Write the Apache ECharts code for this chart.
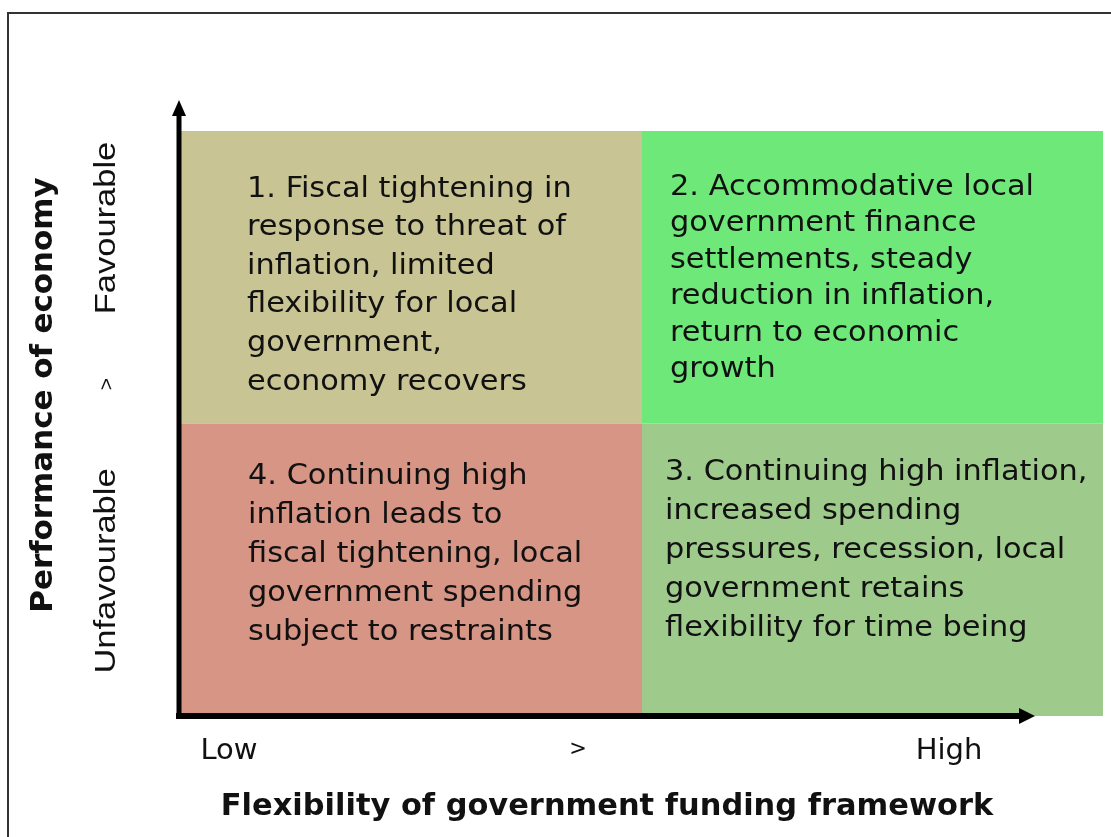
<!DOCTYPE html>
<html>
<head>
<meta charset="utf-8">
<title>Scenario matrix</title>
<script src="https://cdn.jsdelivr.net/npm/echarts@6/dist/echarts.min.js"></script>
<style>
  html, body { margin: 0; padding: 0; background: #fff; }
  #chart { width: 1111px; height: 837px; }
</style>
</head>
<body>
<div id="chart"></div>
<script>
// scenarios: which cell of the 2x2 grid each one sits in
// col 0 = low flexibility, col 1 = high; row 0 = unfavourable, row 1 = favourable
const scenarioIds = [1, 2, 3, 4]
const scenarioCol = [0, 1, 1, 0]
const scenarioRow = [1, 1, 0, 0]
const scenarioText = [
  '1. Fiscal tightening in\nresponse to threat of\ninflation, limited\nflexibility for local\ngovernment,\neconomy recovers',
  '2. Accommodative local\ngovernment finance\nsettlements, steady\nreduction in inflation,\nreturn to economic\ngrowth',
  '3. Continuing high inflation,\nincreased spending\npressures, recession, local\ngovernment retains\nflexibility for time being',
  '4. Continuing high\ninflation leads to\nfiscal tightening, local\ngovernment spending\nsubject to restraints'
]
const xTickLabels = ['Low', '>', 'High']
const yTickLabels = ['Unfavourable', '>', 'Favourable']
const xAxisName = 'Flexibility of government funding framework'
const yAxisName = 'Performance of economy'

// styling
const cellColors = ['#c8c493', '#6fe87a', '#9ecb8c', '#d79585']
const cellPad = [[66, 39], [28, 38], [23, 30], [67, 34]]
const cellLineHeight = [38.6, 36.5, 39, 39]
const textFont = 'DejaVu Sans'
const sideFont = 'Liberation Sans'

let chart = echarts.init(document.getElementById('chart'))

function label(opts, style) {
  return Object.assign({ type: 'text', z: 100 }, opts, {
    style: Object.assign({
      fill: '#111', align: 'center', verticalAlign: 'middle',
      textAlign: 'center', textVerticalAlign: 'middle'
    }, style)
  })
}

// 坐标轴箭头和文字用 graphic 画
let graphics = [
  {
    type: 'rect', z: 100,
    shape: { x: 8, y: 13, width: 1200, height: 900 },
    style: { fill: 'none', stroke: '#333', lineWidth: 2 }
  },
  // y axis
  { type: 'line', z: 100, shape: { x1: 179, y1: 112, x2: 179, y2: 719 }, style: { stroke: '#000', lineWidth: 5 } },
  { type: 'polygon', z: 100, shape: { points: [[179, 100], [172, 116], [186, 116]] }, style: { fill: '#000' } },
  // x axis
  { type: 'line', z: 100, shape: { x1: 176, y1: 716, x2: 1022, y2: 716 }, style: { stroke: '#000', lineWidth: 6 } },
  { type: 'polygon', z: 100, shape: { points: [[1035, 716], [1019, 708], [1019, 724]] }, style: { fill: '#000' } }
]

const xTickPos = [229, 578, 949]
xTickLabels.forEach((t, i) => {
  graphics.push(label(
    { x: xTickPos[i], y: i === 1 ? 750 : 751 },
    { text: t, fontFamily: textFont, fontSize: i === 1 ? 21 : 29 }
  ))
})
graphics.push(label(
  { x: 607, y: 807, scaleX: 1.015 },
  { text: xAxisName, fontFamily: textFont, fontSize: 30, fontWeight: 'bold' }
))

const yTickPos = [571, 384, 228]
yTickLabels.forEach((t, i) => {
  graphics.push(label(
    { x: 107, y: yTickPos[i], rotation: Math.PI / 2, scaleX: i === 1 ? 1 : 1.15 },
    { text: t, fontFamily: sideFont, fontSize: i === 1 ? 21 : 30 }
  ))
})
graphics.push(label(
  { x: 44, y: 395, rotation: Math.PI / 2, scaleX: 1.03 },
  { text: yAxisName, fontFamily: textFont, fontSize: 30, fontWeight: 'bold' }
))

chart.setOption({
  animation: false,
  backgroundColor: '#fff',
  grid: { left: 181, top: 131, right: 8, bottom: 121 },
  xAxis: { type: 'value', min: 0, max: 2, show: false },
  yAxis: { type: 'value', min: 0, max: 2, show: false },
  graphic: graphics,
  series: [
    {
      type: 'custom',
      coordinateSystem: 'cartesian2d',
      data: scenarioIds.map((id, i) => [scenarioCol[i], scenarioRow[i], i]),
      encode: { x: 0, y: 1 },
      renderItem: function (params, api) {
        let c = api.value(0)
        let r = api.value(1)
        let i = api.value(2)
        let tl = api.coord([c, r + 1])
        let br = api.coord([c + 1, r])
        return {
          type: 'group',
          children: [
            {
              type: 'rect',
              shape: { x: tl[0], y: tl[1], width: br[0] - tl[0], height: br[1] - tl[1] },
              style: { fill: cellColors[i] }
            },
            {
              type: 'text',
              x: tl[0] + cellPad[i][0],
              y: tl[1] + cellPad[i][1],
              scaleX: 1.085,
              style: {
                text: scenarioText[i], fontFamily: textFont, fontSize: 28, fill: '#111',
                lineHeight: cellLineHeight[i], align: 'left', verticalAlign: 'top',
                textAlign: 'left', textVerticalAlign: 'top'
              }
            }
          ]
        }
      }
    }
  ]
})
</script>
</body>
</html>
